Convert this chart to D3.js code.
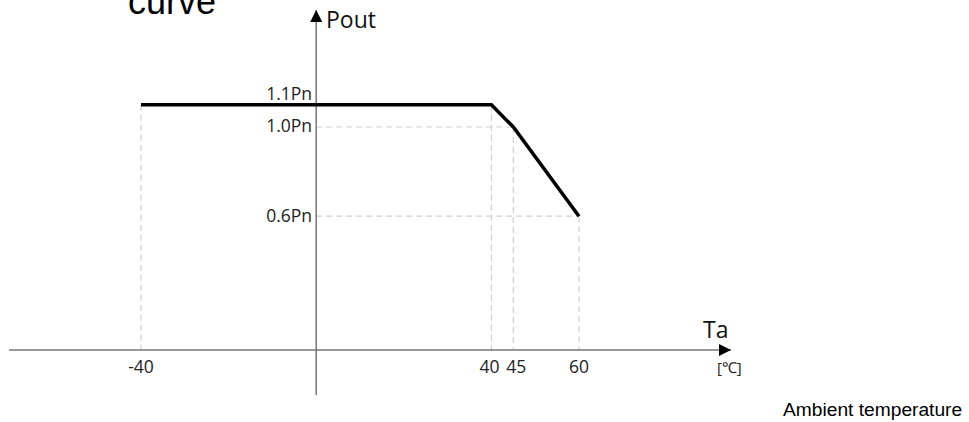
<!DOCTYPE html>
<html><head><meta charset="utf-8">
<script src="https://cdn.jsdelivr.net/npm/d3@7"></script>
<style>body{margin:0;background:#fff}svg{display:block}</style>
</head><body>
<svg id="c" width="969" height="422"></svg>
<script>
const temps = [-40, 40, 45, 60];
const power = [1.1, 1.1, 1.0, 0.6];
const xTickLabels = ["-40", "40", "45", "60"];
const yTickValues = [1.1, 1.0, 0.6];
const yTickLabels = ["1.1Pn", "1.0Pn", "0.6Pn"];

const svg = d3.select("#c");
const x = d3.scaleLinear().domain([-40, 60]).range([141, 579]);
const y = d3.scaleLinear().domain([0, 1]).range([350, 127]);
const font = "'Open Sans', 'Noto Sans', sans-serif";
const arial = "Arial, 'Liberation Sans', sans-serif";

svg.append("defs").append("marker").attr("id","arr").attr("viewBox","0 0 10 10")
  .attr("refX",10).attr("refY",5).attr("markerWidth",14).attr("markerHeight",12)
  .attr("markerUnits","userSpaceOnUse").attr("orient","auto")
  .append("path").attr("d","M0,0L10,5L0,10z").attr("fill","#000");

const pts = temps.map((t,i)=>({t, p: power[i]}));
const gd = svg.append("g").attr("stroke","#d0d0d0").attr("stroke-width",1.2).attr("stroke-dasharray","6,4");
pts.forEach(d=>{
  gd.append("line").attr("x1",x(d.t)).attr("x2",x(d.t)).attr("y1",y(d.p)).attr("y2",y(0));
});
pts.filter(d=>d.p<1.05).forEach(d=>{
  gd.append("line").attr("x1",x(0)).attr("x2",x(d.t)).attr("y1",y(d.p)).attr("y2",y(d.p));
});

// axes
svg.append("line").attr("x1",9).attr("x2",731).attr("y1",y(0)).attr("y2",y(0))
  .attr("stroke","#777").attr("stroke-width",1.5).attr("marker-end","url(#arr)");
svg.append("line").attr("x1",x(0)).attr("x2",x(0)).attr("y1",395).attr("y2",10)
  .attr("stroke","#777").attr("stroke-width",1.5).attr("marker-end","url(#arr)");

// curve
svg.append("path").datum(pts)
  .attr("d", d3.line().x(d=>x(d.t)).y(d=>y(d.p)))
  .attr("fill","none").attr("stroke","#000").attr("stroke-width",3.5);

// x tick labels
const xOff = {"-40":0, "40":-2, "45":3, "60":0};
svg.append("g").selectAll("text").data(temps).join("text")
  .attr("x",d=> x(d) + xOff[d]).attr("y",373)
  .attr("text-anchor","middle").attr("font-family",font).attr("font-size",17.5).attr("fill","#222")
  .text((d,i)=>xTickLabels[i]);

// y tick labels
const yOff = [-4.5, 4.5, 6];
svg.append("g").selectAll("text").data(yTickValues).join("text")
  .attr("x",312).attr("y",(d,i)=>y(d)+yOff[i])
  .attr("text-anchor","end").attr("font-family",font).attr("font-size",17.5).attr("fill","#222")
  .text((d,i)=>yTickLabels[i]);

// axis titles
svg.append("text").attr("x",326).attr("y",28).attr("font-family",font).attr("font-size",23).attr("fill","#111").text("Pout");
svg.append("text").attr("x",703).attr("y",338).attr("font-family",font).attr("font-size",23).attr("fill","#111").text("Ta");
svg.append("text").attr("x",717).attr("y",373).attr("font-family",font).attr("font-size",15).attr("fill","#222").text("[℃]");
svg.append("text").attr("x",783).attr("y",416).attr("font-family",arial).attr("font-size",19.2).attr("fill","#000").text("Ambient temperature");
svg.append("text").attr("x",128).attr("y",14).attr("font-family",arial).attr("font-size",36).attr("fill","#000").text("curve");
</script>
</body></html>
